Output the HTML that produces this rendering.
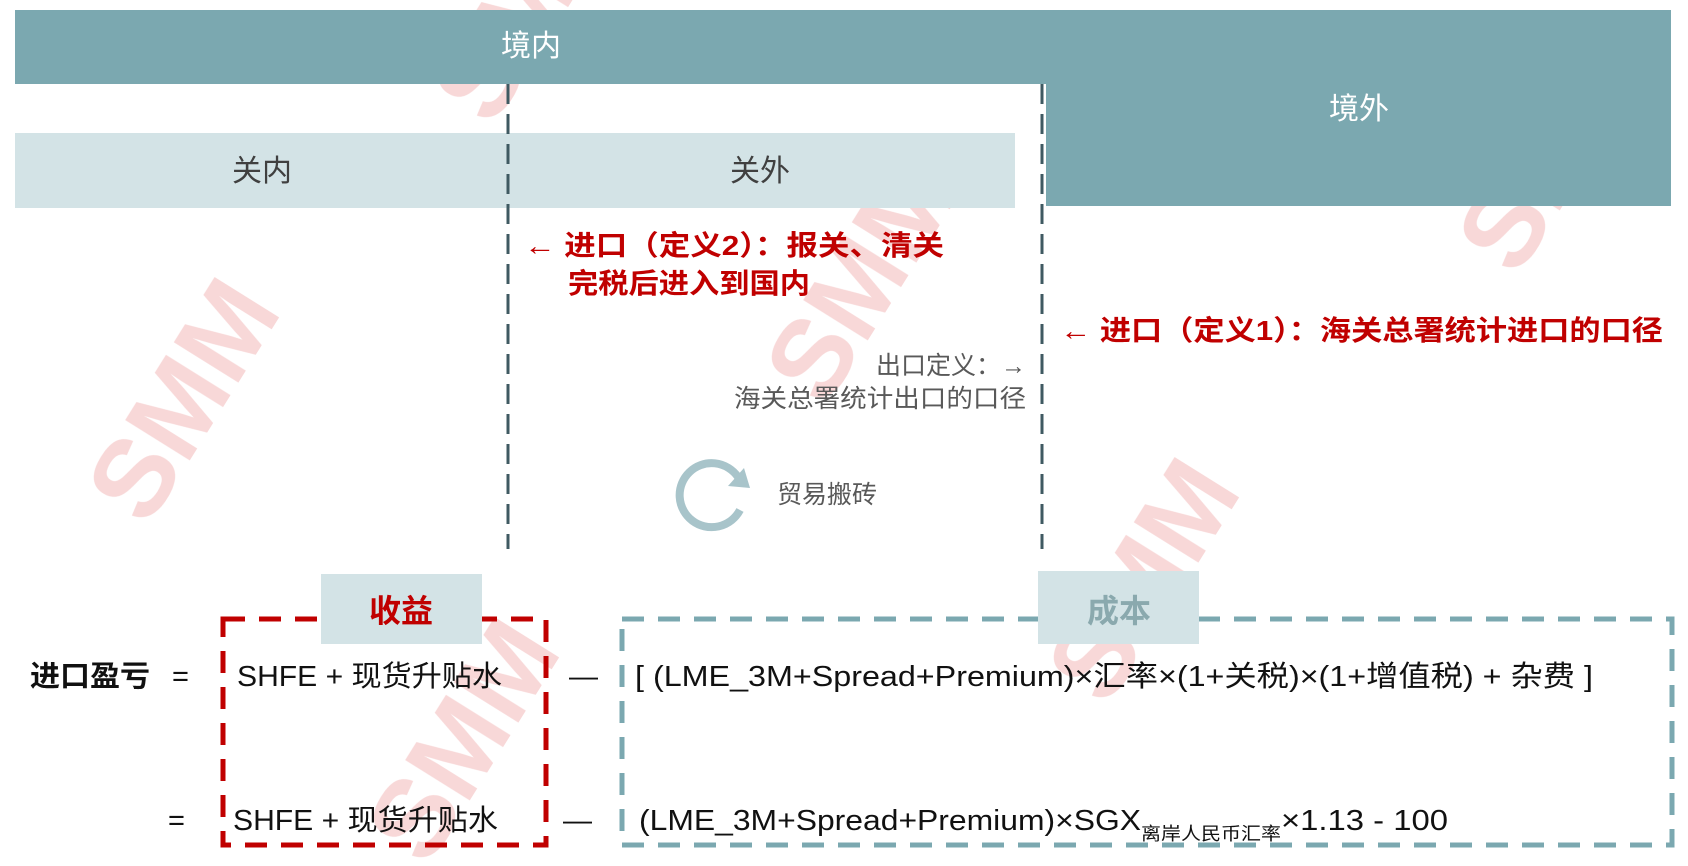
<!DOCTYPE html>
<html><head><meta charset="utf-8"><style>
html,body{margin:0;padding:0;background:#fff;}
svg{display:block;}
text{font-family:"Liberation Sans","Noto Sans CJK SC",sans-serif;}
</style></head><body>
<svg width="1688" height="866" viewBox="0 0 1688 866" xmlns="http://www.w3.org/2000/svg">
<!-- watermarks -->
<g fill="#e87c7c" opacity="0.3" font-weight="bold" font-family="Liberation Sans, sans-serif">
<text x="0" y="0" font-size="110" transform="translate(215,420) rotate(-58)" text-anchor="middle">SMM</text>
<text x="0" y="0" font-size="110" transform="translate(893,300) rotate(-58)" text-anchor="middle">SMM</text>
<text x="0" y="0" font-size="110" transform="translate(1585,170) rotate(-58)" text-anchor="middle">SMM</text>
<text x="0" y="0" font-size="110" transform="translate(1175,600) rotate(-58)" text-anchor="middle">SMM</text>
<text x="0" y="0" font-size="110" transform="translate(495,760) rotate(-58)" text-anchor="middle">SMM</text>
<text x="0" y="0" font-size="110" transform="translate(560,20) rotate(-58)" text-anchor="middle">SMM</text>
</g>
<!-- top bars -->
<rect x="15" y="10" width="1656" height="74" fill="#7ba8b0"/>
<rect x="1046" y="84" width="625" height="122" fill="#7ba8b0"/>
<text x="531" y="56" font-size="30" fill="#fff" text-anchor="middle">境内</text>
<text x="1359" y="119" font-size="30" fill="#fff" text-anchor="middle">境外</text>
<rect x="15" y="133" width="1000" height="75" fill="#d3e3e6"/>
<text x="262" y="181" font-size="30" fill="#404040" text-anchor="middle">关内</text>
<text x="760" y="181" font-size="30" fill="#404040" text-anchor="middle">关外</text>
<!-- dashed verticals -->
<line x1="508" y1="84" x2="508" y2="549" stroke="#3f5a62" stroke-width="3" stroke-dasharray="20,10"/>
<line x1="1042" y1="84" x2="1042" y2="549" stroke="#3f5a62" stroke-width="3" stroke-dasharray="20,10"/>
<!-- red notes -->
<g fill="#c00000" font-weight="bold" font-size="28">
<text x="524" y="255" textLength="420" lengthAdjust="spacingAndGlyphs">← 进口（定义2）：报关、清关</text>
<text x="568" y="293" textLength="242" lengthAdjust="spacingAndGlyphs">完税后进入到国内</text>
<text x="1060" y="340" textLength="603" lengthAdjust="spacingAndGlyphs">← 进口（定义1）：海关总署统计进口的口径</text>
</g>
<g fill="#595959" font-size="25" text-anchor="end">
<text x="1026" y="374">出口定义：→</text>
<text x="1026" y="407" textLength="292" lengthAdjust="spacingAndGlyphs">海关总署统计出口的口径</text>
</g>
<!-- cycle icon -->
<path d="M 738 477 A 32 32 0 1 0 740 510" fill="none" stroke="#a8c4ca" stroke-width="8"/>
<polygon points="728,486 750,488 744,468" fill="#a8c4ca"/>
<text x="777" y="503" font-size="25" fill="#595959">贸易搬砖</text>
<!-- dashed boxes -->
<rect x="223" y="619" width="323" height="226" fill="none" stroke="#c00000" stroke-width="5" stroke-dasharray="22,14"/>
<rect x="622" y="619" width="1050" height="226" fill="none" stroke="#7ba8b0" stroke-width="5" stroke-dasharray="22,14"/>
<rect x="321" y="574" width="161" height="70" fill="#d3e3e6"/>
<text x="401" y="622" font-size="32" font-weight="bold" fill="#c00000" text-anchor="middle">收益</text>
<rect x="1038" y="571" width="161" height="73" fill="#d3e3e6"/>
<text x="1119" y="622" font-size="32" font-weight="bold" fill="#8aa9ae" text-anchor="middle">成本</text>
<!-- formulas -->
<g font-size="29" fill="#111">
<text x="30" y="686" font-weight="bold" textLength="120" lengthAdjust="spacingAndGlyphs">进口盈亏</text>
<text x="172" y="686">=</text>
<text x="237" y="686" textLength="265" lengthAdjust="spacingAndGlyphs">SHFE + 现货升贴水</text>
<text x="569" y="686">—</text>
<text x="635" y="686" textLength="958" lengthAdjust="spacingAndGlyphs">[ (LME_3M+Spread+Premium)×汇率×(1+关税)×(1+增值税) + 杂费 ]</text>
<text x="168" y="830">=</text>
<text x="233" y="830" textLength="265" lengthAdjust="spacingAndGlyphs">SHFE + 现货升贴水</text>
<text x="563" y="830">—</text>
<text x="639" y="830" textLength="502" lengthAdjust="spacingAndGlyphs">(LME_3M+Spread+Premium)×SGX</text>
<text x="1141" y="840" font-size="18" textLength="140" lengthAdjust="spacingAndGlyphs">离岸人民币汇率</text>
<text x="1281" y="830" textLength="167" lengthAdjust="spacingAndGlyphs">×1.13 - 100</text>
</g>
</svg>
</body></html>
